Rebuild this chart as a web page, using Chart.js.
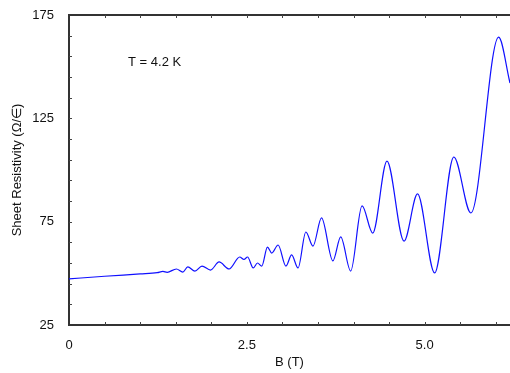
<!DOCTYPE html>
<html>
<head>
<meta charset="utf-8">
<script src="https://cdn.jsdelivr.net/npm/chart.js@4"></script>
<style>
  body { margin: 0; background: #fff; }
  canvas { display: block; }
</style>
</head>
<body>
<canvas id="chart" width="510" height="373"></canvas>
<script>
// magnetic field (T) and sheet resistivity
const fieldB = [0, 0.5, 1.0, 1.24, 1.32, 1.38, 1.51, 1.60, 1.67, 1.77, 1.87, 1.99, 2.11, 2.25, 2.40, 2.46, 2.51, 2.59, 2.65, 2.71, 2.79, 2.85, 2.94, 3.05, 3.13, 3.22, 3.33, 3.43, 3.55, 3.71, 3.82, 3.96, 4.12, 4.27, 4.47, 4.71, 4.90, 5.14, 5.41, 5.65, 6.04, 6.2];
const resistivity = [47.3, 48.6, 49.7, 50.3, 50.9, 50.5, 52.1, 50.6, 53.1, 51.1, 53.5, 51.6, 55.5, 52.1, 57.9, 56.7, 57.9, 52.6, 55.0, 53.5, 62.7, 59.8, 63.7, 53.5, 58.9, 52.6, 70.0, 63.2, 76.8, 56.0, 67.6, 51.1, 82.6, 69.5, 104.3, 65.6, 88.4, 50.2, 106.3, 79.2, 164.3, 142.1];

const xTickValues = [0, 2.5, 5.0];
const xTickLabels = ['0', '2.5', '5.0'];
const yTickValues = [25, 75, 125, 175];
const yTickLabels = ['25', '75', '125', '175'];

const axisFont = { family: 'Liberation Sans, Arial, sans-serif', size: 13 };

// little inside ticks, top frame line and the temperature note
const framePlugin = {
    id: 'frame',
    afterDatasetsDraw(chart) {
        const ctx = chart.ctx;
        const area = chart.chartArea;
        const x = chart.scales.x;
        const y = chart.scales.y;
        ctx.save();
        ctx.strokeStyle = '#333';
        ctx.lineWidth = 2;
        ctx.beginPath();
        ctx.moveTo(area.left - 1, area.top);
        ctx.lineTo(area.right, area.top);
        ctx.stroke();

        ctx.lineWidth = 1;
        ctx.strokeStyle = '#444';
        ctx.beginPath();
        for (let v = 0.5; v <= 6.01; v += 0.5) {
            const px = Math.round(x.getPixelForValue(v)) + 0.5;
            ctx.moveTo(px, area.bottom);
            ctx.lineTo(px, area.bottom - 3);
            ctx.moveTo(px, area.top);
            ctx.lineTo(px, area.top + 3);
        }
        for (let v = 35; v < 175; v += 10) {
            const py = Math.round(y.getPixelForValue(v)) + 0.5;
            ctx.moveTo(area.left, py);
            ctx.lineTo(area.left + 3, py);
        }
        ctx.stroke();

        ctx.fillStyle = '#111';
        ctx.font = '13px "Liberation Sans", Arial, sans-serif';
        ctx.textBaseline = 'middle';
        ctx.fillText('T = 4.2 K', x.getPixelForValue(0.83), y.getPixelForValue(152));
        ctx.restore();
    }
};

new Chart('chart', {
    type: 'line',
    data: {
        labels: fieldB,
        datasets: [{
            data: fieldB.map((b, i) => ({ x: b, y: resistivity[i] })),
            borderColor: '#1010ff',
            borderWidth: 1.2,
            pointRadius: 0,
            fill: false,
            cubicInterpolationMode: 'monotone'
        }]
    },
    options: {
        responsive: false,
        animation: false,
        layout: { padding: { top: 15, right: 0, left: 0, bottom: 0 } },
        plugins: {
            legend: { display: false },
            tooltip: { enabled: false }
        },
        scales: {
            x: {
                type: 'linear',
                min: 0,
                max: 6.2,
                afterBuildTicks: (scale) => { scale.ticks = xTickValues.map(v => ({ value: v })); },
                afterFit: (scale) => { scale.height = 48; },
                grid: { display: false },
                border: { display: true, color: '#333', width: 2 },
                ticks: {
                    color: '#111',
                    font: axisFont,
                    padding: 5,
                    maxRotation: 0,
                    autoSkip: false,
                    callback: (value) => xTickLabels[xTickValues.indexOf(value)]
                },
                title: {
                    display: true,
                    text: 'B (T)',
                    color: '#111',
                    font: axisFont,
                    padding: { top: 0, bottom: 3 }
                }
            },
            y: {
                min: 25,
                max: 175,
                afterBuildTicks: (scale) => { scale.ticks = yTickValues.map(v => ({ value: v })); },
                afterFit: (scale) => { scale.width = 69; },
                grid: { display: false },
                border: { display: true, color: '#333', width: 2 },
                ticks: {
                    color: '#111',
                    font: axisFont,
                    padding: 7,
                    autoSkip: false,
                    callback: (value) => yTickLabels[yTickValues.indexOf(value)]
                },
                title: {
                    display: true,
                    text: 'Sheet Resistivity (Ω/∈)',
                    color: '#111',
                    font: axisFont,
                    padding: { top: 10, bottom: 0 }
                }
            }
        }
    },
    plugins: [framePlugin]
});
</script>
</body>
</html>
